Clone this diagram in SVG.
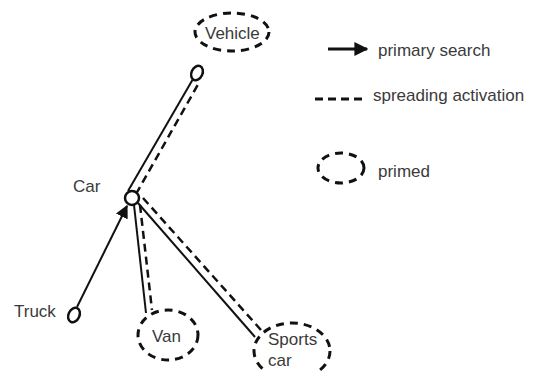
<svg xmlns="http://www.w3.org/2000/svg" width="541" height="371" viewBox="0 0 541 371">
  <style>
    text { font-family: "Liberation Sans", Arial, sans-serif; font-size: 17px; fill: #3a3a3a; }
    .solid { stroke: #111; stroke-width: 2; fill: none; }
    .dash { stroke: #111; stroke-width: 2.5; stroke-dasharray: 8 5; fill: none; }
    .primed { stroke: #111; stroke-width: 3; stroke-dasharray: 8 6; fill: #fff; }
    .node { stroke: #111; stroke-width: 2.5; fill: #fff; }
  </style>
  <defs>
    <marker id="head-lg" viewBox="0 0 10 10" refX="9" refY="5" markerWidth="13" markerHeight="13" markerUnits="userSpaceOnUse" orient="auto">
      <path d="M0,0 L10,5 L0,10 Z" fill="#111"/>
    </marker>
    <marker id="head-key" viewBox="0 0 10 10" refX="9" refY="5" markerWidth="14" markerHeight="15" markerUnits="userSpaceOnUse" orient="auto">
      <path d="M0,0 L10,5 L0,10 Z" fill="#111"/>
    </marker>
  </defs>

  <rect width="541" height="371" fill="#fff"/>

  <!-- connectors -->
  <g id="connectors">
    <!-- Car to Vehicle -->
    <line class="solid" x1="128" y1="191" x2="193" y2="79"/>
    <line class="dash" x1="136" y1="194" x2="200" y2="81"/>
    <!-- Car to Van -->
    <line class="solid" x1="134" y1="205" x2="146" y2="313"/>
    <line class="dash" x1="140" y1="205" x2="152" y2="310"/>
    <!-- Car to Sports car -->
    <line class="solid" x1="138" y1="203" x2="255" y2="337"/>
    <line class="dash" x1="143" y1="198" x2="261" y2="330"/>
    <!-- Truck to Car (primary search) -->
    <line class="solid" x1="77" y1="307" x2="127" y2="206" marker-end="url(#head-lg)"/>
  </g>

  <!-- nodes -->
  <g id="vehicle">
    <ellipse class="primed" cx="232" cy="32" rx="37" ry="19"/>
    <text x="205" y="39">Vehicle</text>
  </g>
  <g id="vehicle-link">
    <ellipse class="node" cx="197" cy="73" rx="5.5" ry="7.5" transform="rotate(25 197 73)"/>
  </g>
  <g id="car">
    <circle class="node" cx="132" cy="198" r="7"/>
    <text x="73" y="192">Car</text>
  </g>
  <g id="truck">
    <ellipse class="node" cx="74" cy="315" rx="5.5" ry="7.5" transform="rotate(25 74 315)"/>
    <text x="14" y="317">Truck</text>
  </g>
  <g id="van">
    <ellipse class="primed" cx="168" cy="335" rx="30" ry="25"/>
    <text x="152" y="342">Van</text>
  </g>
  <g id="sports-car">
    <ellipse class="primed" cx="292" cy="351" rx="38" ry="28"/>
    <text x="268" y="345">Sports</text>
    <text x="268" y="366">car</text>
  </g>

  <!-- legend -->
  <g id="legend">
    <line stroke="#111" stroke-width="3" x1="328" y1="49" x2="367" y2="49" marker-end="url(#head-key)"/>
    <text x="378" y="56">primary search</text>
    <line stroke="#111" stroke-width="3" stroke-dasharray="8 5" x1="315" y1="99" x2="362" y2="99"/>
    <text x="373" y="101">spreading activation</text>
    <ellipse class="primed" cx="341" cy="168" rx="23" ry="15"/>
    <text x="378" y="177">primed</text>
  </g>
</svg>
